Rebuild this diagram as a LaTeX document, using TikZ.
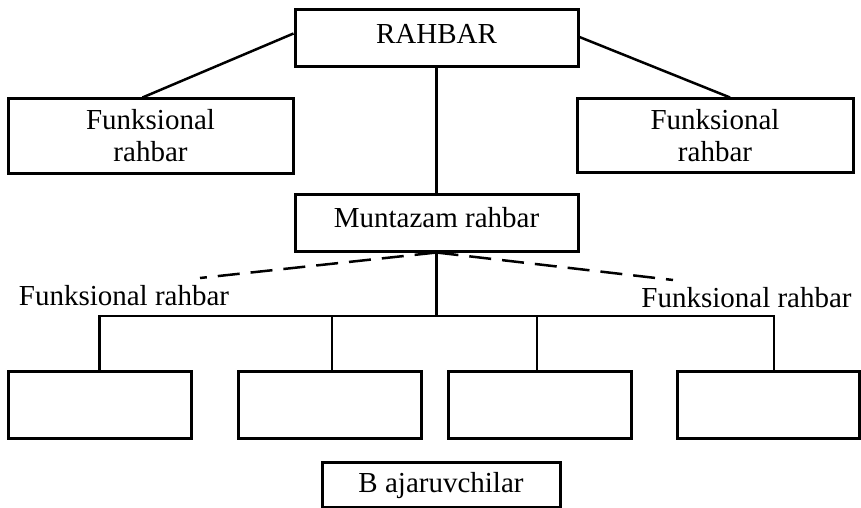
\documentclass[tikz,border=0pt]{standalone}
\usepackage{fontspec}
\setmainfont{Liberation Serif}
\begin{document}
\begin{tikzpicture}[x=1pt,y=-1pt,
  box/.style={draw,line width=3pt,rectangle,inner sep=0pt,align=center,font=\fontsize{29}{32}\selectfont},
  conn/.style={line width=2.5pt},
  dconn/.style={line width=2.5pt,dash pattern=on 22pt off 11pt},
  lbl/.style={inner sep=0pt,anchor=base,font=\fontsize{29}{32}\selectfont}]
\useasboundingbox (0,0) rectangle (861,508);
\node[box,minimum width=283pt,minimum height=57pt,text depth=10pt] (r) at (436.5,38.5) {RAHBAR};
\node[box,minimum width=285pt,minimum height=74pt] (lf) at (150.5,136) {Funksional\\rahbar};
\node[box,minimum width=276pt,minimum height=73pt] (rf) at (715,135.5) {Funksional\\rahbar};
\node[box,minimum width=283pt,minimum height=57pt,text depth=10pt] (m) at (436.5,222.5) {Muntazam rahbar};
\node[box,minimum width=183pt,minimum height=67pt] (b1) at (99.5,404.5) {};
\node[box,minimum width=183pt,minimum height=67pt] (b2) at (329.5,404.5) {};
\node[box,minimum width=183pt,minimum height=67pt] (b3) at (539.5,404.5) {};
\node[box,minimum width=182pt,minimum height=67pt] (b4) at (768,404.5) {};
\node[box,minimum width=238pt,minimum height=45pt,text depth=4pt] (ba) at (441,484.5) {B ajaruvchilar};
\node[lbl] (fl) at (124,305) {Funksional rahbar};
\node[lbl] (fr) at (746.5,307) {Funksional rahbar};
\coordinate (dl) at (200,278);
\coordinate (dr) at (673,280);
\coordinate (bus) at (436.5,316);
\draw[conn] ([yshift=5pt]r.west) -- ([xshift=-8pt]lf.north);
\draw[conn] ([yshift=1.5pt]r.east) -- ([xshift=15pt]rf.north);
\draw[conn] (r.south) -- (m.north);
\draw[dconn] (m.south) -- (dl);
\draw[dconn] (m.south) -- (dr);
\draw[conn] (m.south) -- (bus);
\draw[conn] (b1.north) |- (bus) -| ([xshift=6pt]b4.north);
\draw[conn] ([xshift=2.5pt]b2.north) -- ([xshift=2.5pt]b2.north |- bus);
\draw[conn] ([xshift=-2.5pt]b3.north) -- ([xshift=-2.5pt]b3.north |- bus);
\end{tikzpicture}
\end{document}
